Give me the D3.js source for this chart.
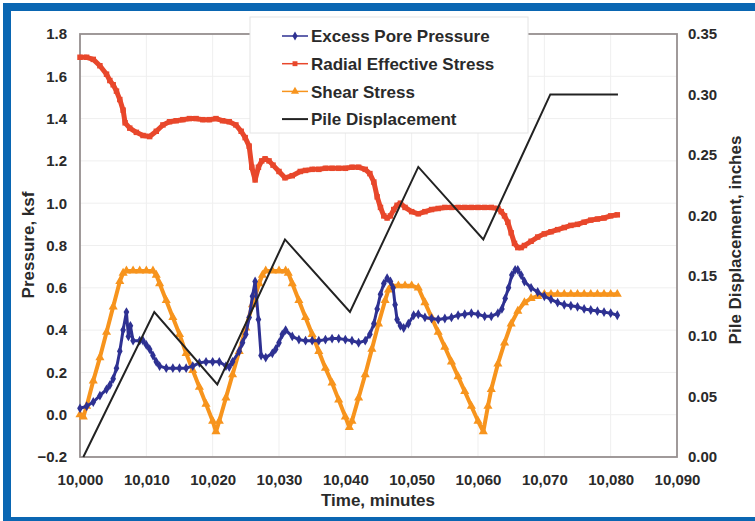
<!DOCTYPE html>
<html>
<head>
<meta charset="utf-8">
<script src="https://cdn.jsdelivr.net/npm/d3@7"></script>
<style>
  html, body { margin: 0; padding: 0; background: #fff; }
  svg { display: block; }
  text { font-family: "Liberation Sans", Arial, sans-serif; font-weight: bold; }
</style>
</head>
<body>
<svg id="chart" width="755" height="521"></svg>
<script>
// ---- data ----
const timeTicks = [10000, 10010, 10020, 10030, 10040, 10050, 10060, 10070, 10080, 10090];
const pressureTicks = [-0.2, 0.0, 0.2, 0.4, 0.6, 0.8, 1.0, 1.2, 1.4, 1.6, 1.8];
const displacementTicks = [0.00, 0.05, 0.10, 0.15, 0.20, 0.25, 0.30, 0.35];

const seriesNames = ["Excess Pore Pressure", "Radial Effective Stress", "Shear Stress", "Pile Displacement"];

// minutes after 10,000
const poreTime = [0,1,2,3,4,4.5,5,5.5,6,6.5,7,7.3,7.6,8,9,9.5,10,10.5,11,11.5,12,13,14,15,16,17,18,19,20,21,22,22.5,23,24,24.5,25,25.5,26,26.4,26.9,27.3,28,29,29.5,30,30.5,31,32,33,34,35,36,37,38,39,40,41,42,43,43.7,44.3,44.8,45.3,45.8,46.3,46.8,47.2,47.5,47.8,48.3,48.8,49.5,50.3,51,52,53,54,55,56,57,58,59,60,61,62,63,63.6,64.1,64.6,65.1,65.6,66,66.5,67,68,69,70,71,72,73,74,75,76,77,78,79,80,81];
const poreValue = [0.03,0.04,0.06,0.09,0.12,0.14,0.17,0.22,0.30,0.40,0.485,0.37,0.42,0.35,0.35,0.35,0.33,0.31,0.28,0.25,0.23,0.22,0.22,0.22,0.22,0.23,0.245,0.25,0.25,0.25,0.23,0.225,0.25,0.30,0.34,0.38,0.46,0.56,0.63,0.45,0.28,0.27,0.29,0.31,0.34,0.38,0.40,0.37,0.355,0.35,0.35,0.35,0.355,0.36,0.36,0.355,0.35,0.34,0.35,0.38,0.43,0.50,0.57,0.62,0.645,0.63,0.60,0.52,0.45,0.42,0.41,0.43,0.47,0.475,0.46,0.455,0.45,0.455,0.46,0.47,0.475,0.48,0.475,0.465,0.465,0.48,0.50,0.55,0.60,0.66,0.685,0.685,0.66,0.63,0.60,0.58,0.56,0.545,0.53,0.52,0.515,0.51,0.50,0.495,0.49,0.485,0.48,0.47];

const radialTime = [0,1,2,3,4,4.5,5,5.5,6,6.5,6.8,7.5,8.5,9.5,10.5,11.5,12.5,13.5,14.5,15.5,16.5,17.5,18.5,19.5,20.5,21.5,22.5,23.5,24.3,24.9,25.5,25.9,26.4,26.9,27.4,27.9,28.5,29.1,30,30.9,32,33.2,34,35,36,37,38,39,40,41,42,43,43.7,44.3,44.8,45.3,45.8,46.3,46.8,47.3,47.8,48.3,49,50,51,52,53,54,55,56,57,58,59,60,61,62,63,63.5,64,64.5,65,65.5,66,66.5,67,68,69,70,71,72,73,74,75,76,77,78,79,80,81];
const radialValue = [1.69,1.69,1.68,1.65,1.61,1.58,1.56,1.53,1.49,1.44,1.38,1.355,1.335,1.32,1.315,1.34,1.37,1.385,1.39,1.395,1.40,1.40,1.395,1.395,1.40,1.39,1.385,1.37,1.34,1.31,1.27,1.17,1.11,1.17,1.20,1.21,1.20,1.18,1.15,1.12,1.13,1.15,1.155,1.16,1.16,1.165,1.165,1.165,1.165,1.17,1.17,1.16,1.14,1.10,1.03,0.98,0.94,0.93,0.94,0.97,0.99,1.00,0.98,0.96,0.95,0.96,0.97,0.975,0.98,0.98,0.98,0.98,0.98,0.98,0.98,0.98,0.975,0.96,0.94,0.91,0.86,0.81,0.79,0.79,0.80,0.82,0.84,0.855,0.865,0.875,0.885,0.895,0.90,0.91,0.92,0.925,0.93,0.94,0.945];

const shearTime = [0,0.5,1,2,3,4,5,6,6.5,7,8,9,10,11,11.5,12,13,14,15,16,17,18,19,20,20.5,21,22,23,24,25,26,27,27.5,28,29,30,31,31.4,32,33,34,35,36,37,38,39,40,40.6,41,42,43,44,45,46,46.5,47,48,49,50,51,52,53,54,55,56,57,58,59,60,60.8,61.5,62,63,64,65,66,67,68,69,70,71,72,73,74,75,76,77,78,79,80,81];
const shearValue = [0.00,-0.01,0.04,0.16,0.27,0.39,0.51,0.63,0.67,0.68,0.68,0.68,0.68,0.68,0.66,0.62,0.54,0.46,0.38,0.29,0.21,0.13,0.05,-0.03,-0.08,-0.03,0.08,0.19,0.30,0.41,0.52,0.62,0.66,0.68,0.68,0.68,0.68,0.67,0.62,0.54,0.46,0.38,0.30,0.22,0.15,0.07,-0.01,-0.06,-0.03,0.08,0.19,0.31,0.43,0.54,0.59,0.61,0.61,0.61,0.61,0.60,0.53,0.46,0.39,0.32,0.25,0.18,0.11,0.04,-0.03,-0.08,0.04,0.12,0.24,0.34,0.43,0.49,0.53,0.55,0.56,0.57,0.57,0.57,0.57,0.57,0.57,0.57,0.57,0.57,0.57,0.57,0.57];

const displacementTime = [0.5,11.2,20.7,30.9,40.7,51.0,60.8,70.9,81.1];
const displacementValue = [0.00,0.12,0.06,0.18,0.12,0.24,0.18,0.30,0.30];

// ---- layout ----
const svg = d3.select("#chart");
const W = 755, H = 521;
const plot = { left: 80, right: 677, top: 34, bottom: 457 };

const colors = {
  frame: "#0a66b2",
  pore: "#2e3192",
  radial: "#e8472b",
  shear: "#f7941d",
  disp: "#222222",
  text: "#2a2a2a",
  axis: "#968f8f",
  grid: "#efefef"
};

const x = d3.scaleLinear().domain([10000, 10090]).range([plot.left, plot.right]);
const yL = d3.scaleLinear().domain([-0.2, 1.8]).range([plot.bottom, plot.top]);
const yR = d3.scaleLinear().domain([0, 0.35]).range([plot.bottom, plot.top]);

// blue frame (top, left, bottom)
svg.append("rect").attr("x", 0).attr("y", 0).attr("width", W).attr("height", H).attr("fill", "#fff");
svg.append("rect").attr("x", 3).attr("y", 3).attr("width", W - 3).attr("height", 8).attr("fill", colors.frame);
svg.append("rect").attr("x", 3).attr("y", 3).attr("width", 8).attr("height", H - 3).attr("fill", colors.frame);
svg.append("rect").attr("x", 3).attr("y", 517).attr("width", W - 3).attr("height", 4).attr("fill", colors.frame);

// grid
const grid = svg.append("g");
grid.selectAll("line.v").data(timeTicks.slice(1, -1)).join("line")
  .attr("x1", d => x(d)).attr("x2", d => x(d))
  .attr("y1", plot.top).attr("y2", plot.bottom)
  .attr("stroke", colors.grid).attr("stroke-width", 1);
grid.selectAll("line.h").data(pressureTicks.slice(1, -1)).join("line")
  .attr("x1", plot.left).attr("x2", plot.right)
  .attr("y1", d => yL(d)).attr("y2", d => yL(d))
  .attr("stroke", colors.grid).attr("stroke-width", 1);

// axes
const axisBottom = d3.axisBottom(x).tickValues(timeTicks).tickSize(0).tickPadding(17)
  .tickFormat(d3.format(","));
const axisLeft = d3.axisLeft(yL).tickValues(pressureTicks).tickSize(0).tickPadding(13)
  .tickFormat(d3.format(".1f"));
const axisRight = d3.axisRight(yR).tickValues(displacementTicks).tickSize(0).tickPadding(11)
  .tickFormat(d3.format(".2f"));

function styleAxis(g) {
  g.select(".domain").remove();
  g.selectAll("text").attr("fill", colors.text).style("font-size", "15px")
    .style("font-family", "'Liberation Sans', Arial, sans-serif").style("font-weight", "bold");
}
svg.append("g").attr("transform", `translate(0,${plot.bottom})`).call(axisBottom).call(styleAxis)
  .selectAll("text").attr("dy", "0.71em");
svg.append("g").attr("transform", `translate(${plot.left},0)`).call(axisLeft).call(styleAxis);
svg.append("g").attr("transform", `translate(${plot.right},0)`).call(axisRight).call(styleAxis);

// plot border
svg.append("rect")
  .attr("x", plot.left).attr("y", plot.top)
  .attr("width", plot.right - plot.left).attr("height", plot.bottom - plot.top)
  .attr("fill", "none").attr("stroke", colors.axis).attr("stroke-width", 1.8);

// axis titles
svg.append("text").attr("x", 378).attr("y", 506).attr("text-anchor", "middle")
  .attr("fill", colors.text).style("font-size", "17px").text("Time, minutes");
svg.append("text").attr("transform", `translate(34,245) rotate(-90)`).attr("text-anchor", "middle")
  .attr("fill", colors.text).style("font-size", "17px").text("Pressure, ksf");
svg.append("text").attr("transform", `translate(741,240) rotate(-90)`).attr("text-anchor", "middle")
  .attr("fill", colors.text).style("font-size", "17px").text("Pile Displacement, inches");

// series
const zip = (ts, vs) => ts.map((t, i) => ({ t: 10000 + t, v: vs[i] }));
const pore = zip(poreTime, poreValue);
const radial = zip(radialTime, radialValue);
const shear = zip(shearTime, shearValue);
const disp = zip(displacementTime, displacementValue);

const lineL = d3.line().x(d => x(d.t)).y(d => yL(d.v));
const lineR = d3.line().x(d => x(d.t)).y(d => yR(d.v));

const series = svg.append("g");

function drawSeries(data, color, width, symbol, size) {
  series.append("path").datum(data).attr("d", lineL)
    .attr("fill", "none").attr("stroke", color).attr("stroke-width", width)
    .attr("stroke-linejoin", "round");
  series.append("g").selectAll("path").data(data).join("path")
    .attr("transform", d => `translate(${x(d.t)},${yL(d.v)})`)
    .attr("d", d3.symbol().type(symbol).size(size))
    .attr("fill", color);
}

drawSeries(radial, colors.radial, 5, d3.symbolSquare, 30);
drawSeries(shear, colors.shear, 4, d3.symbolTriangle, 36);
drawSeries(pore, colors.pore, 3, d3.symbolDiamond, 28);

series.append("path").datum(disp).attr("d", lineR)
  .attr("fill", "none").attr("stroke", colors.disp).attr("stroke-width", 2);

// legend
const legend = svg.append("g");
legend.append("rect").attr("x", 250).attr("y", 17).attr("width", 278).attr("height", 116)
  .attr("fill", "#fff").attr("stroke", "#e4e4e4").attr("stroke-width", 1);
const legendItems = [
  { name: seriesNames[0], color: colors.pore, symbol: d3.symbolDiamond, size: 24 },
  { name: seriesNames[1], color: colors.radial, symbol: d3.symbolSquare, size: 24 },
  { name: seriesNames[2], color: colors.shear, symbol: d3.symbolTriangle, size: 28 },
  { name: seriesNames[3], color: colors.disp, symbol: null }
];
legendItems.forEach((item, i) => {
  const cy = 36 + i * 27.7;
  legend.append("line").attr("x1", 282).attr("x2", 308).attr("y1", cy).attr("y2", cy)
    .attr("stroke", item.color).attr("stroke-width", item.symbol ? 1.5 : 2);
  if (item.symbol) {
    legend.append("path").attr("transform", `translate(295,${cy})`)
      .attr("d", d3.symbol().type(item.symbol).size(item.size)).attr("fill", item.color);
  }
  legend.append("text").attr("x", 311).attr("y", cy).attr("dy", "0.36em")
    .attr("fill", colors.text).style("font-size", "17px").text(item.name);
});
</script>
</body>
</html>
